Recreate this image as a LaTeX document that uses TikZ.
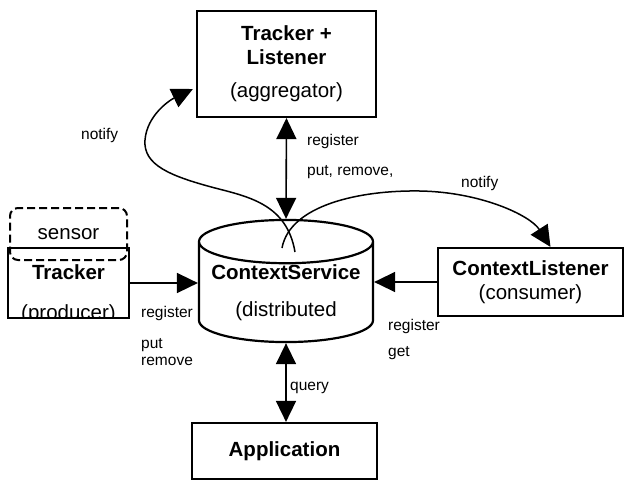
\documentclass[tikz,border=0pt]{standalone}
\usepackage{fontspec}
\setmainfont{Liberation Sans}
\usetikzlibrary{shapes.geometric,arrows.meta}

\begin{document}
\begin{tikzpicture}[x=1pt,y=-1pt,
    box/.style={draw, line width=2.2pt, inner sep=0pt, align=center, font=\fontsize{20.5}{24}\selectfont},
    lbl/.style={font=\fontsize{15.5}{18}\selectfont, inner sep=0pt, anchor=west},
    arr/.style={line width=1.6pt, -{Triangle[length=21pt,width=20pt]}},
    darr/.style={line width=1.6pt, {Triangle[length=21pt,width=20pt]}-{Triangle[length=21pt,width=20pt]}},
    curv/.style={line width=1.5pt, -{Triangle[length=21pt,width=20pt]}}]
    \useasboundingbox (0,0) rectangle (624,480);

    \node[box, minimum width=179pt, minimum height=106pt] (agg) at (286.5,64) {\textbf{Tracker +}\\\textbf{Listener}\\[9pt](aggregator)};
    \node[cylinder, shape border rotate=90, draw, line width=2.2pt, aspect=0.29, minimum width=174pt, minimum height=108pt, inner sep=0pt, align=center, font=\fontsize{20.5}{24}\selectfont, anchor=shape center] (cs) at (286,281) {\textbf{ContextService}\\[13pt](distributed};
    \node[box, minimum width=185pt, minimum height=68pt] (lis) at (530.5,282) {\textbf{ContextListener}\\(consumer)};
    \node[box, minimum width=185pt, minimum height=56pt] (app) at (284.5,451) {\textbf{Application}};

    % producer, cut off by its box
    \node[box, minimum width=121pt, minimum height=70pt] (trk) at (68.5,283) {};
    \node[font=\fontsize{20.5}{24}\selectfont, inner sep=0pt] (trkname) at (68.5,272) {\textbf{Tracker}};
    \begin{scope}
      \clip ([yshift=2.2pt]trk.south west) rectangle (trk.north east);
      \node[font=\fontsize{20.5}{24}\selectfont, inner sep=0pt] (prod) at (68.5,314) {(producer)};
    \end{scope}
    \node[draw, line width=2pt, dash pattern=on 8pt off 4pt, rounded corners=8pt, minimum width=117pt, minimum height=52pt, font=\fontsize{20.5}{24}\selectfont] (sen) at (68.5,234) {sensor};

    \draw[darr] (agg.south) -- (cs.north);
    \draw[darr] (cs.south) -- (cs.south |- app.north);
    \draw[arr] (trk.east) -- (trk.east -| cs.west);
    \draw[arr] (lis.west) -- (lis.west -| cs.east);

    % notify curves
    \coordinate (n1s) at (295,252);
    \coordinate (n2s) at (282,248);
    \draw[curv] (n1s) .. controls (287,205) and (250,197) .. (215,188) .. controls (170,176) and (143,165) .. (145,140) .. controls (147,115) and (170,100) .. ([xshift=-3pt,yshift=-25pt]agg.west);
    \draw[curv] (n2s) .. controls (290,205) and (360,190) .. (420,191) .. controls (480,192) and (530,215) .. ([xshift=20pt]lis.north);

    \node[lbl] (nt1) at (81,135) {notify};
    \node[lbl] (nt2) at (461,183) {notify};
    \node[lbl] (rg1) at (307,141) {register};
    \node[lbl] (pr1) at (307,172) {put, remove,};
    \node[lbl] (rg2) at (141,313) {register};
    \node[lbl] (pt2) at (141,345) {put};
    \node[lbl] (rm2) at (141,361) {remove};
    \node[lbl] (rg3) at (388,326) {register};
    \node[lbl] (gt3) at (388,353) {get};
    \node[lbl] (qry) at (290,388) {query};
  \end{tikzpicture}
\end{document}
